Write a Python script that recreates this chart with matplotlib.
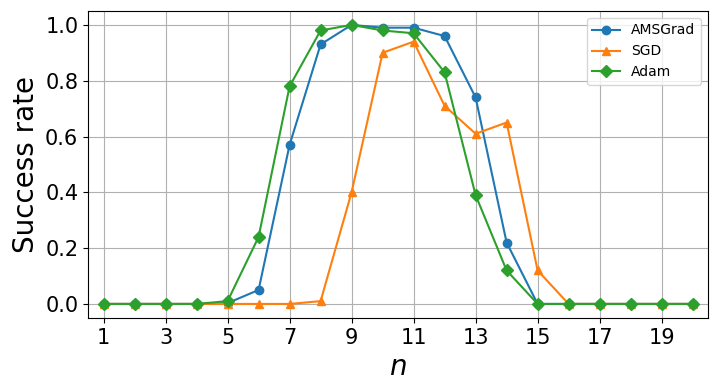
import numpy as np
import matplotlib
matplotlib.use('Agg')
import matplotlib.pyplot as plt

n = np.arange(1, 21)
amsgrad = [0, 0, 0, 0, 0.003, 0.05, 0.57, 0.93, 1.0, 0.99, 0.99, 0.96, 0.74, 0.22, 0, 0, 0, 0, 0, 0]
sgd = [0, 0, 0, 0, 0, 0, 0, 0.01, 0.40, 0.90, 0.94, 0.71, 0.61, 0.65, 0.12, 0, 0, 0, 0, 0]
adam = [0, 0, 0, 0, 0.01, 0.24, 0.78, 0.98, 1.0, 0.98, 0.97, 0.83, 0.39, 0.12, 0, 0, 0, 0, 0, 0]

fig = plt.figure(figsize=(7.16, 3.91), dpi=100)
ax = fig.add_axes([0.123, 0.187, 0.866, 0.785])
ax.plot(n, amsgrad, marker='o', label='AMSGrad')
ax.plot(n, sgd, marker='^', label='SGD')
ax.plot(n, adam, marker='D', label='Adam')
ax.set_xlim(0.5, 20.5)
ax.set_xticks(np.arange(1, 21, 2))
ax.tick_params(labelsize=15)
ax.set_xlabel('$n$', fontsize=20)
ax.set_ylabel('Success rate', fontsize=20)
ax.grid(True)
ax.legend(fontsize=10)
fig.savefig('out.png')
